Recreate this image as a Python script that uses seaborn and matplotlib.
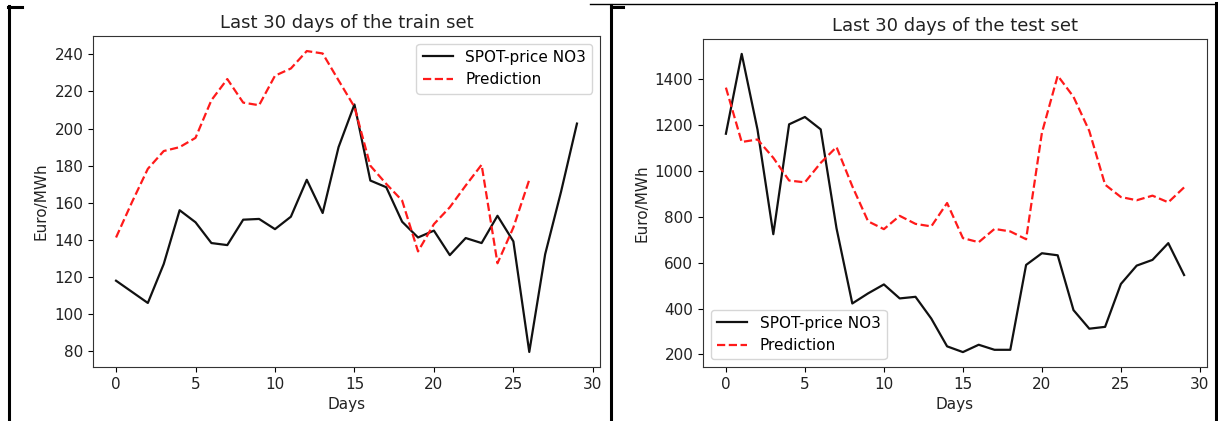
import numpy as np
import pandas as pd
import matplotlib
matplotlib.use("Agg")
import matplotlib.pyplot as plt
from matplotlib.lines import Line2D
import seaborn as sns

# ---- data ----
train_days = list(range(30))
train_spot = [118, 112, 106, 127, 156, 149.5, 138.3, 137.2, 150.9, 151.3,
              145.8, 152.5, 172.4, 154.5, 190, 213, 172, 168.4, 149.8, 141.3,
              145, 131.8, 141, 138.3, 153, 139.2, 79.6, 132.3, 166, 202.7]
train_pred_days = list(range(27))
train_pred = [141.3, 160.3, 178.3, 187.9, 190, 195, 215.3, 226.7, 214, 212.6,
              228.5, 232.4, 241.8, 240.5, 226, 211.7, 180, 170.2, 161.2, 133.8,
              148.5, 157.6, 169.3, 180.5, 127.4, 146.7, 172.4]

test_days = list(range(30))
test_spot = [1162, 1510, 1180, 724, 1203, 1235, 1181, 750, 422, 466,
             505, 444, 451, 356, 235, 210, 242, 220, 220, 590,
             641, 632, 393, 312, 320, 507, 587, 612, 685, 546]
test_pred = [1363, 1126, 1137, 1057, 958, 950, 1035, 1104, 933, 780,
             746, 804, 769, 758, 860, 707, 689, 747, 736, 702,
             1166, 1415, 1323, 1174, 940, 886, 872, 892, 863, 928]

titles = ["Last 30 days of the train set", "Last 30 days of the test set"]
spot_label = "SPOT-price NO3"
pred_label = "Prediction"
xlabel = "Days"
ylabel = "Euro/MWh"

plt.rcParams['font.family'] = ['DejaVu Sans']

W, H = 1218, 421
fig = plt.figure(figsize=(W / 100, H / 100), dpi=100)

def box(x0, y0, x1, y1):
    return [x0 / W, 1 - y1 / H, (x1 - x0) / W, (y1 - y0) / H]

ax1 = fig.add_axes(box(93, 36, 600, 367))
ax2 = fig.add_axes(box(703, 39, 1207, 367))

panels = [
    (ax1, train_days, train_spot, train_pred_days, train_pred, "upper right"),
    (ax2, test_days, test_spot, test_days, test_pred, "lower left"),
]

for (ax, xd, ys, xp, yp, loc), title in zip(panels, titles):
    sns.lineplot(x=xd, y=ys, ax=ax, color="#111111", linewidth=1.6, label=spot_label)
    sns.lineplot(x=xp, y=yp, ax=ax, color="#ff1a1a", linewidth=1.6, linestyle="--",
                 label=pred_label)
    ax.set_title(title, fontsize=13, color="#222222")
    ax.set_xlabel(xlabel, fontsize=11, color="#222222")
    ax.set_ylabel(ylabel, fontsize=11, color="#222222")
    ax.tick_params(labelsize=11, labelcolor="#222222")
    ax.legend(loc=loc, fontsize=11)
    for s in ax.spines.values():
        s.set_color("#333333")
    ax.set_xticks([0, 5, 10, 15, 20, 25, 30])

# screenshot borders
def fline(xs, ys, lw):
    fig.add_artist(Line2D([x / W for x in xs], [1 - y / H for y in ys],
                          color="black", linewidth=lw, transform=fig.transFigure))

fline([9, 9], [6, 421], 2.2)
fline([8, 22], [6.5, 6.5], 2.2)
fline([611, 611], [5, 421], 2.2)
fline([611, 623], [6.5, 6.5], 2.2)
fline([590, 1216], [4, 4], 1.0)
fline([1215.5, 1215.5], [3, 421], 2.2)

fig.savefig("out.png", dpi=100)
